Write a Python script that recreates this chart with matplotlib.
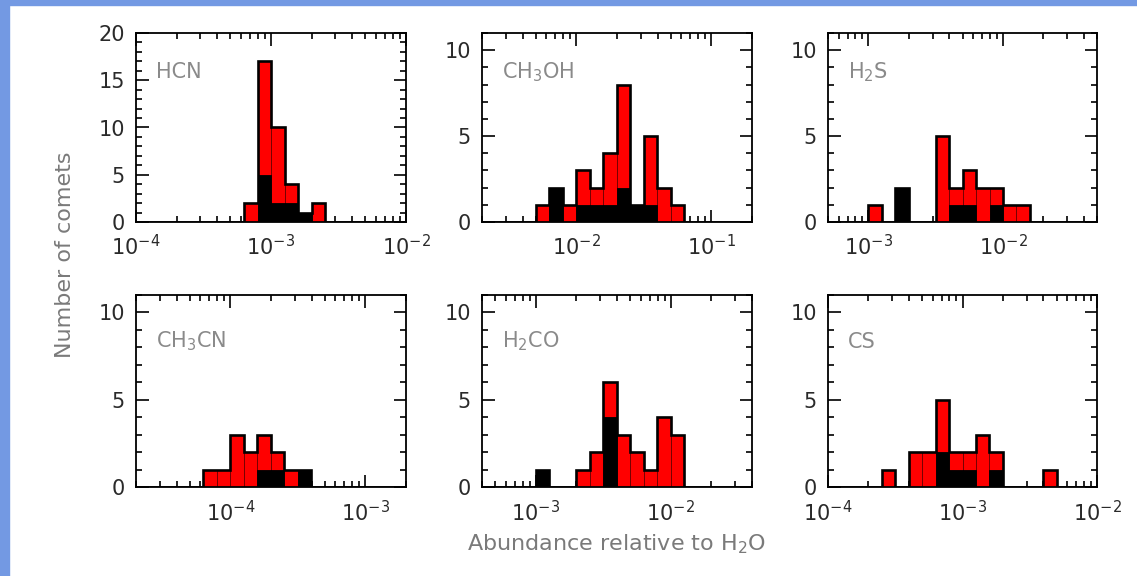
import numpy as np
import matplotlib as mpl
import matplotlib.pyplot as plt
from matplotlib.patches import Rectangle
from matplotlib.ticker import MultipleLocator, LogLocator, NullFormatter

mpl.rcParams['font.family'] = 'sans-serif'
mpl.rcParams['font.sans-serif'] = ['DejaVu Sans']
mpl.rcParams['mathtext.fontset'] = 'custom'
mpl.rcParams['mathtext.rm'] = 'DejaVu Sans'
mpl.rcParams['mathtext.default'] = 'regular'

BIN = 0.1  # bin width in dex

# lower bin edge (log10 abundance), all comets, subsample drawn in black
hcn_lo = [-3.2, -3.1, -3.0, -2.9, -2.8, -2.7]
hcn_all = [2, 17, 10, 4, 1, 2]
hcn_blk = [0, 5, 2, 2, 1, 0]

ch3oh_lo = [-2.3, -2.2, -2.1, -2.0, -1.9, -1.8, -1.7, -1.6, -1.5, -1.4, -1.3]
ch3oh_all = [1, 2, 1, 3, 2, 4, 8, 1, 5, 2, 1]
ch3oh_blk = [0, 2, 0, 1, 1, 1, 2, 1, 1, 0, 0]

h2s_lo = [-3.0, -2.8, -2.5, -2.4, -2.3, -2.2, -2.1, -2.0, -1.9]
h2s_all = [1, 2, 5, 2, 3, 2, 2, 1, 1]
h2s_blk = [0, 2, 0, 1, 1, 0, 1, 0, 0]

ch3cn_lo = [-4.2, -4.1, -4.0, -3.9, -3.8, -3.7, -3.6, -3.5]
ch3cn_all = [1, 1, 3, 2, 3, 2, 1, 1]
ch3cn_blk = [0, 0, 0, 0, 1, 1, 0, 1]

h2co_lo = [-3.0, -2.7, -2.6, -2.5, -2.4, -2.3, -2.2, -2.1, -2.0]
h2co_all = [1, 1, 2, 6, 3, 2, 1, 4, 3]
h2co_blk = [1, 0, 0, 4, 0, 0, 0, 0, 0]

cs_lo = [-3.6, -3.4, -3.3, -3.2, -3.1, -3.0, -2.9, -2.8, -2.4]
cs_all = [1, 2, 2, 5, 2, 2, 3, 2, 1]
cs_blk = [0, 0, 0, 2, 1, 1, 0, 1, 0]

names = ['HCN', 'CH$_3$OH', 'H$_2$S', 'CH$_3$CN', 'H$_2$CO', 'CS']
xlims = [(1e-4, 1e-2), (2e-3, 2e-1), (5e-4, 5e-2),
         (2e-5, 2e-3), (4e-4, 4e-2), (1e-4, 1e-2)]
ymaxs = [20, 11, 11, 11, 11, 11]

W, H = 1137, 576
fig = plt.figure(figsize=(W / 100, H / 100), dpi=100)
fig.patch.set_facecolor('white')
blue = '#7399e3'
fig.patches.append(Rectangle((0, 0), 9 / W, 1, transform=fig.transFigure,
                             color=blue, zorder=0))
fig.patches.append(Rectangle((0, 1 - 5 / H), 1, 5 / H, transform=fig.transFigure,
                             color=blue, zorder=0))

# axes boxes in pixels: left, right / top, bottom
cols = [(136, 406), (482, 752), (828, 1097)]
rows = [(33, 222), (295, 487)]
name_y = [0.76, 0.725]  # baseline of the molecule name, per row


def draw_panel(ax, lo, tot, blk, xlim, ymax, name, ny):
    lo = np.array(lo)
    tot = np.array(tot)
    blk = np.array(blk)
    left = 10 ** lo
    width = 10 ** (lo + BIN) - left
    ax.bar(left, tot, width=width, align='edge', color='#ff0000',
           edgecolor='#6a0000', linewidth=0.6, zorder=2)
    ax.bar(left, blk, width=width, align='edge', color='black',
           edgecolor='black', linewidth=0.6, zorder=3)
    # outline of the whole histogram on a regular grid across the axis
    g0 = np.floor(np.log10(xlim[0]) * 10) / 10
    g1 = np.ceil(np.log10(xlim[1]) * 10) / 10
    grid = np.round(np.arange(g0, g1 + 1e-6, BIN), 1)
    counts = np.zeros(len(grid) - 1)
    idx = np.round((lo - grid[0]) / BIN).astype(int)
    counts[idx] = tot
    ax.stairs(counts, 10 ** grid, color='black', lw=1.9, zorder=4)

    ax.set_xscale('log')
    ax.set_xlim(*xlim)
    ax.set_ylim(0, ymax)
    ax.xaxis.set_major_locator(LogLocator(base=10))
    ax.xaxis.set_minor_locator(LogLocator(base=10, subs=np.arange(2, 10)))
    ax.xaxis.set_minor_formatter(NullFormatter())
    ax.yaxis.set_major_locator(MultipleLocator(5))
    ax.yaxis.set_minor_locator(MultipleLocator(1))
    ax.tick_params(which='both', direction='in', top=True, right=True,
                   width=1.2, colors='black', labelcolor='#2a2a2a',
                   labelsize=15)
    ax.tick_params(which='major', length=9)
    ax.tick_params(which='minor', length=4.5)
    ax.tick_params(axis='x', pad=9)
    ax.tick_params(axis='y', pad=8)
    for sp in ax.spines.values():
        sp.set_linewidth(1.3)
    ax.text(0.075, ny, name, transform=ax.transAxes, fontsize=15,
            color='#8a8a8a', ha='left', va='baseline')


panels = [
    (hcn_lo, hcn_all, hcn_blk),
    (ch3oh_lo, ch3oh_all, ch3oh_blk),
    (h2s_lo, h2s_all, h2s_blk),
    (ch3cn_lo, ch3cn_all, ch3cn_blk),
    (h2co_lo, h2co_all, h2co_blk),
    (cs_lo, cs_all, cs_blk),
]

for i, (lo, tot, blk) in enumerate(panels):
    (x0, x1) = cols[i % 3]
    (y0, y1) = rows[i // 3]
    ax = fig.add_axes([x0 / W, (H - y1) / H, (x1 - x0) / W, (y1 - y0) / H])
    draw_panel(ax, lo, tot, blk, xlims[i], ymaxs[i], names[i], name_y[i // 3])

fig.text(65 / W, 1 - 255 / H, 'Number of comets', rotation=90,
         ha='center', va='center', fontsize=16, color='#7a7a7a')
fig.text(617 / W, 1 - 544 / H, 'Abundance relative to H$_2$O',
         ha='center', va='center', fontsize=16, color='#7a7a7a')

fig.savefig('out.png', dpi=100, facecolor='white')
